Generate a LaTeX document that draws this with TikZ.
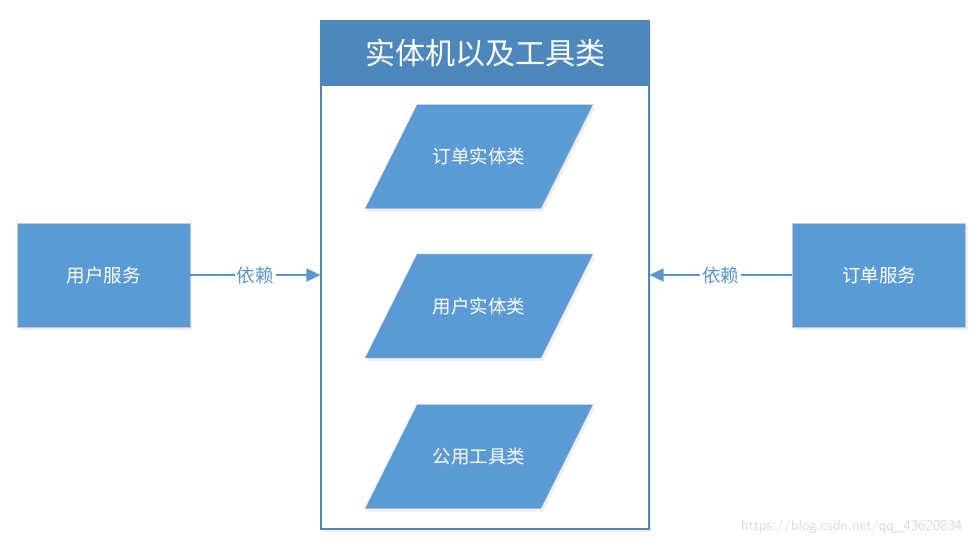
\documentclass[tikz,border=0pt]{standalone}
\usepackage{fontspec}
\setmainfont{Noto Sans CJK SC}
\usetikzlibrary{arrows.meta,shadows}
\definecolor{boxblue}{HTML}{5B9BD5}
\definecolor{headblue}{HTML}{4E87BB}
\definecolor{lineblue}{HTML}{5A96CE}
\definecolor{edgegray}{HTML}{C4C8CC}
\begin{document}
\begin{tikzpicture}[x=1pt,y=-1pt,
	softshadow/.style={drop shadow={opacity=.12, shadow xshift=2pt, shadow yshift=-3pt}},
	svcbox/.style={draw=edgegray, fill=boxblue, text=white, minimum width=173pt, minimum height=104pt, font=\fontsize{18.5}{20}\selectfont, softshadow},
	entshape/.style={draw=edgegray, fill=boxblue, softshadow},
	enttext/.style={text=white, font=\fontsize{18.5}{20}\selectfont},
	deparrow/.style={-{Triangle[length=14pt,width=13pt]}, line width=1.8pt, draw=lineblue},
	deplabel/.style={fill=white, text=lineblue, inner sep=2pt, font=\fontsize{18.5}{20}\selectfont}]
		\useasboundingbox (0,0) rectangle (976,546);
		% container with header
		\node[draw=headblue, line width=1.2pt, fill=white, minimum width=328pt, minimum height=508pt, softshadow] (pack) at (485,275) {};
		\node[draw=headblue, line width=1.2pt, fill=headblue, text=white, minimum width=328pt, minimum height=64pt, font=\fontsize{30}{32}\selectfont] (packhead) at (485,53) {实体机以及工具类};
		% entity and tool classes
		\foreach \y/\name/\txt in {156.5/orderent/订单实体类, 306/userent/用户实体类, 456.5/tools/公用工具类}{
			\path[entshape] (479,\y) ++(-62,-52) -- ++(176,0) -- ++(-52,104) -- ++(-176,0) -- cycle;
			\node[enttext] (\name) at (479,\y) {\txt};
		}
		% services
		\node[svcbox] (usersvc) at (103.5,275) {用户服务};
		\node[svcbox] (ordersvc) at (879,275) {订单服务};
		\draw[deparrow] (usersvc.east) -- node[deplabel] {依赖} (pack.west |- usersvc.east);
		\draw[deparrow] (ordersvc.west) -- node[deplabel] {依赖} (pack.east |- ordersvc.west);
		% watermark
		\node[text=black!15, font=\fontsize{15}{16}\selectfont\sffamily, anchor=east] (mark) at (966,527) {https://blog.csdn.net/qq\_43620834};
	\end{tikzpicture}
\end{document}
